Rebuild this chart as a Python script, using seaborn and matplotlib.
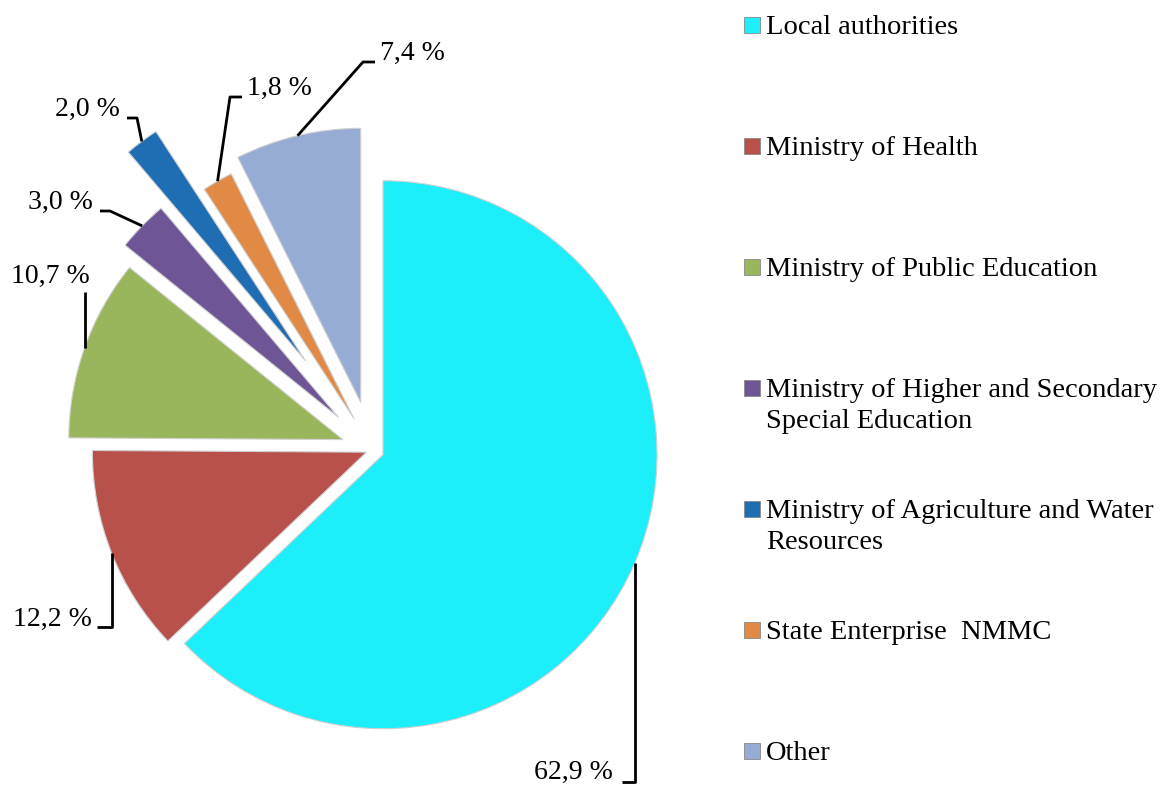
import matplotlib
matplotlib.use("Agg")
import matplotlib.pyplot as plt
from matplotlib.patches import Rectangle
import numpy as np
import seaborn as sns

# ── DATA ───────────────────────────────────────────────────────────────────────
categories = [
    "Local authorities",
    "Ministry of Health",
    "Ministry of Public Education",
    "Ministry of Higher and Secondary\nSpecial Education",
    "Ministry of Agriculture and Water\nResources",
    "State Enterprise  NMMC",
    "Other",
]
shares = [62.9, 12.2, 10.7, 3.0, 2.0, 1.8, 7.4]

# ── STYLE ──────────────────────────────────────────────────────────────────────
hex_colors = ["#1CEEFA", "#B8504C", "#9AB65C", "#6E5595",
              "#1F6DB3", "#E08A45", "#97ACD4"]
explode_px = [12, 6, 31, 47, 111, 36, 49]

W, H = 1172, 787


def px(x, y):
    """pixel (y down) -> data coords (y up)"""
    return x, H - y


sns.set_theme(style="white")
plt.rcParams["font.family"] = ["Liberation Serif", "DejaVu Serif"]

fig = plt.figure(figsize=(W / 100, H / 100), dpi=100)
ax = fig.add_axes([0, 0, 1, 1])
palette = sns.color_palette(hex_colors)

wedges, _ = ax.pie(
    shares,
    colors=palette,
    startangle=90,
    counterclock=False,
    explode=explode_px,
    radius=274,
    center=px(372, 450),
    wedgeprops=dict(linewidth=0.8, edgecolor="#d0d0d0"),
)
ax.set_xlim(0, W)
ax.set_ylim(0, H)
ax.set_aspect("equal")
ax.axis("off")

# label layout: elbow point, stub end, text pos, alignment (pixels)
label_layout = [
    (("ax", 782), (622, 782), (613, 772), "right"),
    (("ax", 627), (97, 627), (92, 619), "right"),
    (("ax", 292), None, (50, 276), "center"),
    ((110, 211), (100, 211), (93, 202), "right"),
    ((137, 118), (127, 118), (120, 109), "right"),
    ((230, 97), (242, 97), (247, 88), "left"),
    ((363, 62), (375, 62), (380, 53), "left"),
]

for w, v, (elbow, stub, tpos, ha) in zip(wedges, shares, label_layout):
    mid = np.deg2rad((w.theta1 + w.theta2) / 2)
    ax_x = w.center[0] + w.r * np.cos(mid)
    ax_y = w.center[1] + w.r * np.sin(mid)
    ex = ax_x if elbow[0] == "ax" else elbow[0]
    ey = px(0, elbow[1])[1]
    xs, ys = [ax_x, ex], [ax_y, ey]
    if stub is not None:
        xs.append(stub[0])
        ys.append(px(0, stub[1])[1])
    ax.plot(xs, ys, color="black", lw=2, solid_capstyle="butt")
    ax.text(*px(*tpos), f"{v:.1f} %".replace(".", ","), ha=ha, va="center",
            fontsize=20, color="black")

# legend drawn by hand so markers line up with the first text line
for i, (name, col) in enumerate(zip(categories, palette)):
    y0 = 25 + 121 * i
    ax.add_patch(Rectangle(px(744, y0 + 8), 16, 16, facecolor=col,
                           edgecolor="#888888", lw=0.6))
    ax.text(*px(766, y0 - 10), name, ha="left", va="top", fontsize=20.5,
            linespacing=1.3, color="black")

fig.savefig("out.png", dpi=100)
